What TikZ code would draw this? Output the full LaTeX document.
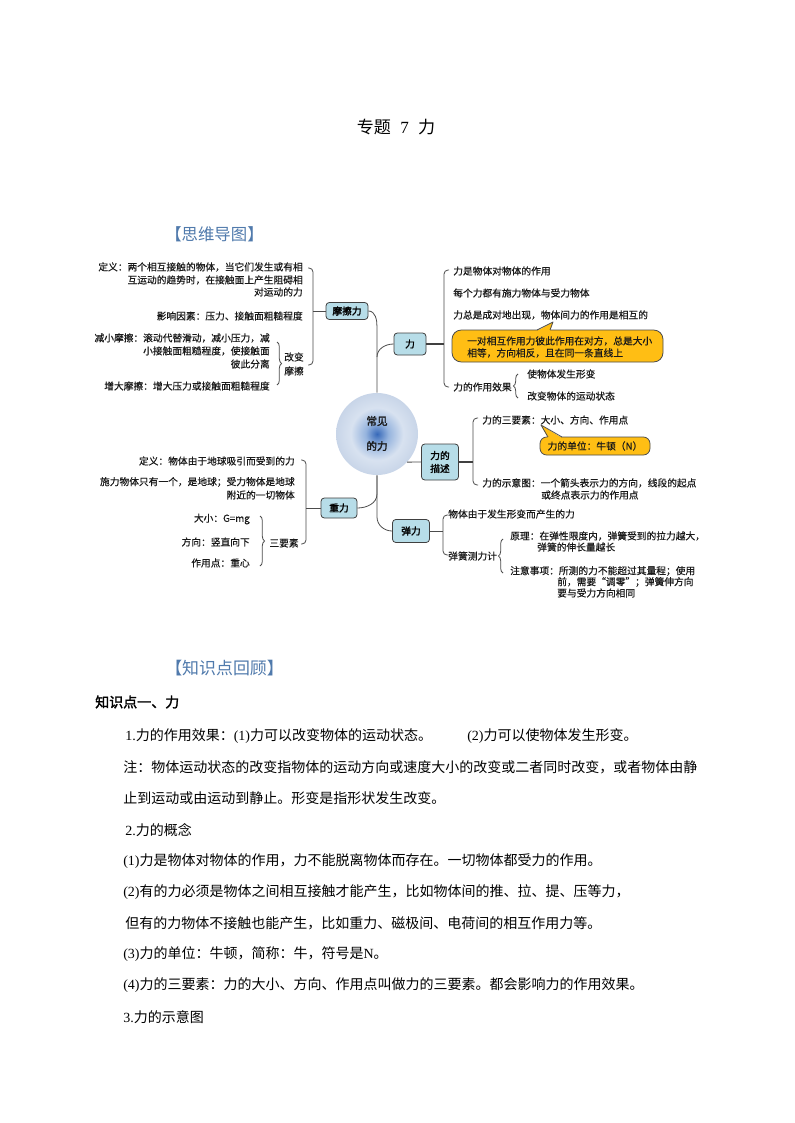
\documentclass[tikz,border=0pt]{standalone}
\usepackage{fontspec}
\setmainfont{Noto Sans CJK SC}[AutoFakeBold=2]
\newfontfamily\mmf{Noto Sans CJK SC}[FakeBold=0.4]
\newfontfamily\tnr{Liberation Serif}
\usetikzlibrary{decorations.pathreplacing}
\definecolor{boxblue}{RGB}{183,221,232}
\definecolor{callyel}{RGB}{255,190,20}
\definecolor{hdblue}{RGB}{80,122,172}
\definecolor{ballc}{RGB}{55,105,185}
\definecolor{ballm}{RGB}{150,180,222}
\definecolor{balle}{RGB}{216,226,240}
\definecolor{ballx}{RGB}{200,213,232}
\pgfdeclareradialshading{ballshade}{\pgfpoint{0bp}{0bp}}{color(0bp)=(ballc); color(7bp)=(ballm); color(16bp)=(balle); color(25bp)=(ballx); color(50bp)=(ballx)}
\begin{document}
\begin{tikzpicture}[x=0.75pt,y=-0.75pt,
  mm/.style={inner sep=0pt, font=\mmf\fontsize{7.3}{8.8}\selectfont, text=black!90},
  mmw/.style={mm, anchor=west},
  mme/.style={mm, anchor=east},
  bx/.style={draw=black!75, fill=boxblue, rounded corners=2.5pt, line width=0.6pt, inner sep=0pt, font=\bfseries\fontsize{7.3}{9.75}\selectfont, align=center},
  ln/.style={draw=black!70, line width=0.6pt},
  thk/.style={draw=black!75, line width=1.3pt},
  br/.style={draw=black!70, line width=0.6pt, rounded corners=3pt},
  brc/.style={draw=black!70, line width=0.6pt, decorate, decoration={brace, amplitude=3.5pt}},
  body/.style={anchor=west, inner sep=0pt, font=\fontsize{10.5}{12}\selectfont},
  call/.style={draw=black!70, fill=callyel, line width=0.6pt},
  calledge/.style={draw=black!70, line width=0.6pt, line join=round}
]
\fill[white] (0,0) rectangle (794,1123);
\useasboundingbox (0,0) rectangle (794,1123);

% title and headers
\node[inner sep=0pt, font=\fontsize{12.8}{14}\selectfont] (title) at (396,127) {专题\hspace{0.55em}{\tnr 7}\hspace{0.55em}力};
\node[anchor=west, inner sep=0pt, text=hdblue, font=\fontsize{12.3}{14}\selectfont] (h1) at (165,234) {【思维导图】};
\node[anchor=west, inner sep=0pt, text=hdblue, font=\fontsize{12.7}{14}\selectfont] (h2) at (165,668) {【知识点回顾】};

% central circle
\node[circle, minimum size=61.5pt, inner sep=0pt, shading=ballshade] (c) at (377,434) {};
\node[inner sep=0pt, font=\bfseries\fontsize{8}{10}\selectfont, text=black!90] (cj) at (377,421) {常见};
\node[inner sep=0pt, font=\bfseries\fontsize{8}{10}\selectfont, text=black!90] (dl) at (377,446) {的力};

% boxes
\node[bx, minimum width=31.5pt, minimum height=12.75pt] (mc) at (347,311) {摩擦力};
\node[bx, minimum width=24pt, minimum height=16.5pt] (li) at (410,344) {力};
\node[bx, minimum width=27.75pt, minimum height=27pt] (ms) at (440,462) {力的\\描述};
\node[bx, minimum width=27pt, minimum height=15pt] (zl) at (339,508) {重力};
\node[bx, minimum width=27.75pt, minimum height=17.25pt] (tl) at (411,531) {弹力};

% trunk connectors
\coordinate (j1) at (377,327);
\coordinate (j2) at (377,357);
\coordinate (j3) at (377,494);
\coordinate (j4) at (377,517);
\draw[ln] (mc.east) to[out=0,in=90] (j1) -- (c.north);
\draw[ln] (j2) to[out=90,in=180] (li.west);
\draw[ln] (zl.east) to[out=0,in=-90] (j3) -- (c.south);
\draw[ln] (c.south) -- (j4) to[out=-90,in=180] (tl.west);
\draw[ln] (c.-43) -- (ms.west);

% brackets
\coordinate (bmc) at (313,311);
\draw[br] (308,268) -- (313,268) -- (313,365) -- (308,365);
\draw[ln] (bmc) -- (mc.west);
\coordinate (bli) at (444,344);
\draw[br] (449,270) -- (444,270) -- (444,387) -- (449,387);
\draw[thk] (li.east) -- (bli);
\coordinate (bms) at (473,462);
\draw[br] (478,418) -- (473,418) -- (473,485) -- (478,485);
\draw[thk] (ms.east) -- (bms);
\coordinate (btl) at (443,531);
\draw[br] (448,515) -- (443,515) -- (443,555) -- (448,555);
\draw[ln] (tl.east) -- (btl);
\coordinate (bzl) at (306,508);
\draw[br] (301,460) -- (306,460) -- (306,544) -- (301,544);
\draw[ln] (bzl) -- (zl.west);

% sub braces
\draw[brc] (277,342) -- (277,385);
\draw[brc] (518,398) -- (518,374);
\draw[brc] (503,573) -- (503,539);
\draw[brc] (260,516) -- (260,566);

% friction texts
\node[mme] (f1) at (303,267) {定义：两个相互接触的物体，当它们发生或有相};
\node[mme] (f2) at (303,280) {互运动的趋势时，在接触面上产生阻碍相};
\node[mme] (f3) at (303,292) {对运动的力};
\node[mme] (f4) at (303,316) {影响因素：压力、接触面粗糙程度};
\node[mm] (f5) at (294,357) {改变};
\node[mm] (f6) at (294,371) {摩擦};
\node[mme] (f7) at (270,338) {减小摩擦：滚动代替滑动，减小压力，减};
\node[mme] (f8) at (270,351) {小接触面粗糙程度，使接触面};
\node[mme] (f9) at (270,364) {彼此分离};
\node[mme] (f10) at (270,386) {增大摩擦：增大压力或接触面粗糙程度};

% force texts
\node[mmw] (l1) at (453,271) {力是物体对物体的作用};
\node[mmw] (l2) at (453,293) {每个力都有施力物体与受力物体};
\node[mmw] (l3) at (453,315) {力总是成对地出现，物体间力的作用是相互的};
\filldraw[call, rounded corners=7pt] (452,330) rectangle (663,362);
\fill[callyel] (537,331) -- (553,322) -- (550,331) -- cycle;
\draw[calledge] (537,330) -- (553,322) -- (550,330);
\node[mmw] (l4) at (467,341) {一对相互作用力彼此作用在对方，总是大小};
\node[mmw] (l5) at (467,353) {相等，方向相反，且在同一条直线上};
\node[mmw] (l6) at (453,387) {力的作用效果};
\node[mmw] (l7) at (527,374) {使物体发生形变};
\node[mmw] (l8) at (527,396) {改变物体的运动状态};

% description texts
\node[mmw] (d1) at (482,420) {力的三要素：大小、方向、作用点};
\filldraw[call, rounded corners=5pt] (540,437) rectangle (650,455);
\fill[callyel] (548,438) -- (541,425) -- (562,438) -- cycle;
\draw[calledge] (548,437) -- (541,425) -- (562,437);
\node[mm] (d2) at (595,446) {力的单位：牛顿（N）};
\node[mmw] (d3) at (482,483) {力的示意图：一个箭头表示力的方向，线段的起点};
\node[mmw] (d4) at (541,495) {或终点表示力的作用点};

% elastic texts
\node[mmw] (e1) at (448,514) {物体由于发生形变而产生的力};
\node[mmw] (e2) at (448,556) {弹簧测力计};
\node[mmw] (e3) at (510,536) {原理：在弹性限度内，弹簧受到的拉力越大，};
\node[mmw] (e4) at (537,547) {弹簧的伸长量越长};
\node[mmw] (e5) at (510,571) {注意事项：所测的力不能超过其量程；使用};
\node[mmw] (e6) at (557,582) {前，需要“调零”；弹簧伸方向};
\node[mmw] (e7) at (557,593) {要与受力方向相同};

% gravity texts
\node[mme] (g1) at (295,461) {定义：物体由于地球吸引而受到的力};
\node[mme] (g2) at (295,482) {施力物体只有一个，是地球；受力物体是地球};
\node[mme] (g3) at (295,495) {附近的一切物体};
\node[mm] (g4) at (284,543) {三要素};
\node[mme] (g5) at (250,519) {大小：G=mg};
\node[mme] (g6) at (250,542) {方向：竖直向下};
\node[mme] (g7) at (250,563) {作用点：重心};

% body text
\node[body, font=\bfseries\fontsize{10.5}{12}\selectfont] (k1) at (95,702) {知识点一、力};
\node[body] (b1) at (125,736) {{\tnr 1.}力的作用效果：{\tnr (1)}力可以改变物体的运动状态。};
\node[body] (b1b) at (467,736) {{\tnr (2)}力可以使物体发生形变。};
\node[body] (b2) at (123,767) {注：物体运动状态的改变指物体的运动方向或速度大小的改变或二者同时改变，或者物体由静};
\node[body] (b3) at (123,798) {止到运动或由运动到静止。形变是指形状发生改变。};
\node[body] (b4) at (125,830) {{\tnr 2.}力的概念};
\node[body] (b5) at (123,861) {{\tnr (1)}力是物体对物体的作用，力不能脱离物体而存在。一切物体都受力的作用。};
\node[body] (b6) at (123,892) {{\tnr (2)}有的力必须是物体之间相互接触才能产生，比如物体间的推、拉、提、压等力，};
\node[body] (b7) at (125,923) {但有的力物体不接触也能产生，比如重力、磁极间、电荷间的相互作用力等。};
\node[body] (b8) at (123,954) {{\tnr (3)}力的单位：牛顿，简称：牛，符号是{\tnr N}。};
\node[body] (b9) at (123,985) {{\tnr (4)}力的三要素：力的大小、方向、作用点叫做力的三要素。都会影响力的作用效果。};
\node[body] (b10) at (123,1017) {{\tnr 3.}力的示意图};
\end{tikzpicture}
\end{document}
